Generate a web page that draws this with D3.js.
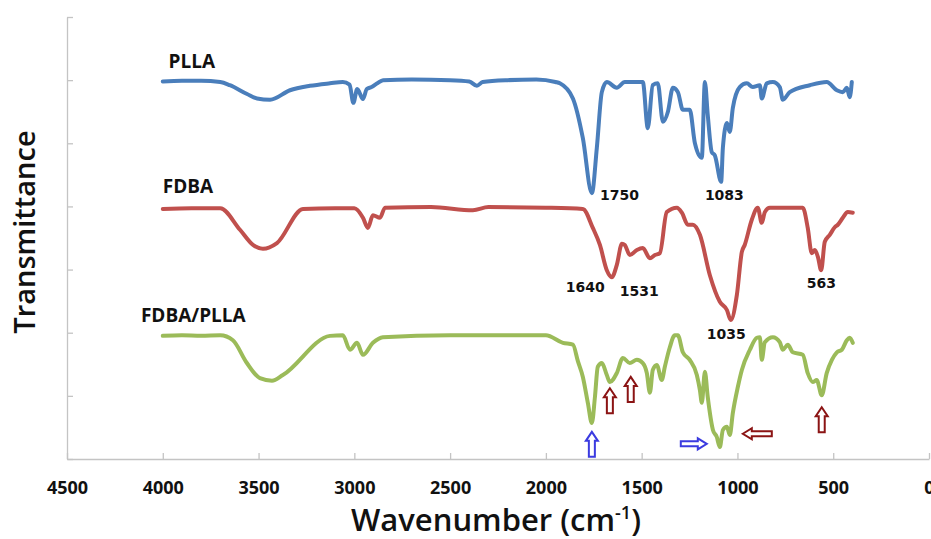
<!DOCTYPE html>
<html>
<head>
<meta charset="utf-8">
<script src="https://cdn.jsdelivr.net/npm/d3@7"></script>
<style>
  body { margin: 0; background: #ffffff; }
  text { font-family: "Open Sans", sans-serif; fill: #111; }
</style>
</head>
<body>
<div id="wrapper"></div>
<script>
// x ticks (wavenumber, cm-1)
const xTicks = [4500, 4000, 3500, 3000, 2500, 2000, 1500, 1000, 500, 0];
const yTicks = [0, 1, 2, 3, 4, 5, 6, 7];

// [wavenumber, transmittance (offset, a.u.)]
const pllaData = [
  [4000, 5.98], [3900, 5.99], [3800, 5.99], [3700, 5.97], [3650, 5.92], [3560, 5.78],
  [3508, 5.71], [3440, 5.69], [3336, 5.84], [3232, 5.91], [3127, 5.95], [3060, 5.97],
  [3025, 5.93], [3005, 5.64], [2985, 5.86], [2955, 5.70], [2935, 5.86], [2910, 5.89],
  [2880, 5.95], [2850, 6.00], [2700, 6.01], [2500, 6.00], [2400, 5.98], [2360, 5.91],
  [2330, 5.97], [2200, 6.00], [2050, 6.01], [1950, 5.97], [1927, 5.95], [1859, 5.71],
  [1807, 5.08], [1760, 4.21], [1734, 4.93], [1708, 5.81], [1682, 5.97], [1630, 5.88],
  [1588, 5.97], [1494, 5.97], [1468, 5.24], [1442, 5.92], [1416, 5.95], [1389, 5.34],
  [1363, 5.50], [1337, 5.88], [1311, 5.81], [1285, 5.53], [1249, 5.53], [1222, 5.00],
  [1186, 4.77], [1170, 5.97], [1155, 5.45], [1134, 4.86], [1118, 4.81], [1085, 4.39],
  [1076, 4.93], [1055, 5.32], [1040, 5.18], [1024, 5.56], [988, 5.89], [951, 5.95],
  [920, 5.89], [883, 5.92], [873, 5.71], [847, 5.95], [815, 5.97], [779, 5.89],
  [763, 5.69], [727, 5.81], [622, 5.92], [534, 5.97], [481, 5.84], [450, 5.81],
  [429, 5.88], [414, 5.73], [403, 5.97]
];

const fdbaData = [
  [4000, 3.96], [3850, 3.97], [3700, 3.97], [3597, 3.63], [3529, 3.39], [3477, 3.33],
  [3404, 3.42], [3268, 3.96], [3100, 3.97], [3000, 3.97], [2955, 3.82], [2929, 3.66],
  [2903, 3.86], [2866, 3.82], [2840, 3.98], [2600, 3.99], [2381, 3.94], [2300, 3.99],
  [2000, 3.98], [1807, 3.96], [1755, 3.66], [1718, 3.39], [1682, 2.99], [1656, 2.88],
  [1630, 3.07], [1603, 3.41], [1588, 3.39], [1562, 3.23], [1525, 3.31], [1494, 3.34],
  [1457, 3.18], [1431, 3.23], [1405, 3.26], [1369, 3.91], [1316, 3.98], [1290, 3.90],
  [1259, 3.71], [1233, 3.71], [1196, 3.55], [1144, 2.91], [1092, 2.49], [1055, 2.36],
  [1035, 2.20], [1003, 2.60], [977, 3.28], [962, 3.39], [925, 3.79], [894, 3.98],
  [873, 3.74], [857, 3.91], [831, 3.98], [659, 3.98], [633, 3.66], [612, 3.26],
  [596, 3.31], [580, 3.20], [563, 2.99], [544, 3.44], [518, 3.55], [492, 3.67],
  [476, 3.71], [450, 3.82], [424, 3.91], [398, 3.90]
];

const blendData = [
  [4000, 1.95], [3900, 1.96], [3800, 1.95], [3700, 1.96], [3634, 1.88], [3561, 1.52],
  [3493, 1.28], [3430, 1.24], [3373, 1.33], [3127, 1.95], [3060, 1.96], [3023, 1.73],
  [2986, 1.84], [2955, 1.65], [2903, 1.84], [2851, 1.93], [2500, 1.96], [2000, 1.96],
  [1911, 1.84], [1859, 1.81], [1833, 1.55], [1807, 1.30], [1781, 0.89], [1760, 0.57],
  [1744, 0.98], [1729, 1.46], [1708, 1.52], [1682, 1.33], [1666, 1.22], [1630, 1.36],
  [1598, 1.60], [1562, 1.52], [1525, 1.57], [1494, 1.52], [1473, 1.36], [1457, 1.05],
  [1442, 1.41], [1421, 1.49], [1395, 1.25], [1379, 1.46], [1353, 1.77], [1327, 1.96],
  [1311, 1.96], [1285, 1.69], [1249, 1.57], [1212, 1.33], [1196, 1.09], [1186, 0.89],
  [1170, 1.38], [1155, 0.98], [1128, 0.46], [1108, 0.35], [1092, 0.19], [1076, 0.46],
  [1055, 0.51], [1040, 0.38], [1024, 0.73], [998, 1.14], [977, 1.41], [935, 1.73],
  [899, 1.92], [883, 1.93], [873, 1.57], [857, 1.85], [815, 1.93], [779, 1.85],
  [763, 1.73], [737, 1.81], [711, 1.69], [659, 1.65], [633, 1.36], [607, 1.22],
  [586, 1.25], [560, 1.01], [534, 1.36], [507, 1.57], [481, 1.69], [455, 1.73],
  [429, 1.88], [414, 1.92], [398, 1.84]
];

// series names and where their name labels sit [wavenumber, value]
const seriesNames = ["PLLA", "FDBA", "FDBA/PLLA"];
const seriesLabelPos = [[3970, 6.19], [4000, 4.21], [4114, 2.17]];

// peak labels: [text, wavenumber, value]
const peakLabels = [
  ["1750", 1718, 4.10], ["1083", 1170, 4.10],
  ["1640", 1896, 2.64], ["1531", 1614, 2.58],
  ["563", 638, 2.71], ["1035", 1160, 1.90]
];

// arrow annotations: [wavenumber, value, direction, colour]
const arrowMarks = [
  [1760, 0.43, "up", "#3b3be0"], [1666, 1.12, "up", "#8b1414"],
  [1557, 1.30, "up", "#8b1414"], [560, 0.82, "up", "#8b1414"],
  [1160, 0.24, "right", "#3b3be0"], [972, 0.40, "left", "#8b1414"]
];

const colors = ["#4a7ebb", "#c0504d", "#9bbb59"];

const dimensions = {
  width: 931,
  height: 539,
  margin: { top: 17, right: 2, bottom: 80, left: 67 }
};
dimensions.boundedWidth = dimensions.width - dimensions.margin.left - dimensions.margin.right;
dimensions.boundedHeight = dimensions.height - dimensions.margin.top - dimensions.margin.bottom;

const wrapper = d3.select("#wrapper")
  .append("svg")
  .attr("width", dimensions.width)
  .attr("height", dimensions.height);

const bounds = wrapper.append("g")
  .attr("transform", `translate(${dimensions.margin.left},${dimensions.margin.top})`);

const xScale = d3.scaleLinear()
  .domain([4500, 0])
  .range([0, 862]);

const yScale = d3.scaleLinear()
  .domain([0, 7])
  .range([dimensions.boundedHeight, 0]);

// axes
const xAxis = bounds.append("g")
  .attr("transform", `translate(0,${dimensions.boundedHeight})`)
  .call(d3.axisBottom(xScale)
    .tickValues(xTicks)
    .tickFormat(d3.format("d"))
    .tickSizeInner(-6)
    .tickSizeOuter(0)
    .tickPadding(22));
xAxis.selectAll("text")
  .style("font-family", "'Open Sans', sans-serif")
  .style("font-size", "18px")
  .style("font-weight", "700")
  .attr("fill", "#111");

const yAxis = bounds.append("g")
  .call(d3.axisLeft(yScale).tickValues(yTicks).tickSizeInner(-6).tickSizeOuter(0).tickFormat(""));

bounds.selectAll(".domain, .tick line")
  .attr("stroke", "#c4c4c4")
  .attr("stroke-width", 1.3);

// spectra
const lineGenerator = d3.line()
  .x((d) => xScale(d[0]))
  .y((d) => yScale(d[1]))
  .curve(d3.curveMonotoneX);

[pllaData, fdbaData, blendData].forEach((data, i) => {
  bounds.append("path")
    .attr("d", lineGenerator(data))
    .attr("fill", "none")
    .attr("stroke", colors[i])
    .attr("stroke-width", 4)
    .attr("stroke-linejoin", "round")
    .attr("stroke-linecap", "round");
});

// series names
bounds.selectAll(".series-label")
  .data(seriesNames)
  .join("text")
  .attr("class", "series-label")
  .attr("x", (d, i) => xScale(seriesLabelPos[i][0]))
  .attr("y", (d, i) => yScale(seriesLabelPos[i][1]))
  .style("font-size", "19px")
  .style("font-weight", "700")
  .text((d) => d);

// peak labels
bounds.selectAll(".peak-label")
  .data(peakLabels)
  .join("text")
  .attr("class", "peak-label")
  .attr("x", (d) => xScale(d[1]))
  .attr("y", (d) => yScale(d[2]))
  .style("font-family", "'DejaVu Sans', sans-serif")
  .style("font-size", "14px")
  .style("font-weight", "700")
  .text((d) => d[0]);

// hollow block arrows, tip at the data point
const arrowShapes = {
  up: "M0,0 L6,9 L3,9 L3,25 L-3,25 L-3,9 L-6,9 Z",
  right: "M0,0 L-9,-5.5 L-9,-2.5 L-26,-2.5 L-26,2.5 L-9,2.5 L-9,5.5 Z",
  left: "M0,0 L9,-5.5 L9,-2.5 L29,-2.5 L29,2.5 L9,2.5 L9,5.5 Z"
};
bounds.selectAll(".arrow")
  .data(arrowMarks)
  .join("path")
  .attr("class", "arrow")
  .attr("transform", (d) => `translate(${xScale(d[0])},${yScale(d[1])})`)
  .attr("d", (d) => arrowShapes[d[2]])
  .attr("fill", "#ffffff")
  .attr("stroke", (d) => d[3])
  .attr("stroke-width", 2)
  .attr("stroke-linejoin", "miter");

// axis titles
const xTitle = wrapper.append("text")
  .attr("x", 496)
  .attr("y", 531)
  .attr("text-anchor", "middle")
  .style("font-size", "31px")
  .style("font-weight", "600");
xTitle.append("tspan").text("Wavenumber (cm");
xTitle.append("tspan").attr("dy", -12).style("font-size", "18px").text("-1");
xTitle.append("tspan").attr("dy", 12).text(")");

wrapper.append("text")
  .attr("transform", "translate(35,232) rotate(-90)")
  .attr("text-anchor", "middle")
  .style("font-size", "29px")
  .style("font-weight", "600")
  .text("Transmittance");
</script>
</body>
</html>
